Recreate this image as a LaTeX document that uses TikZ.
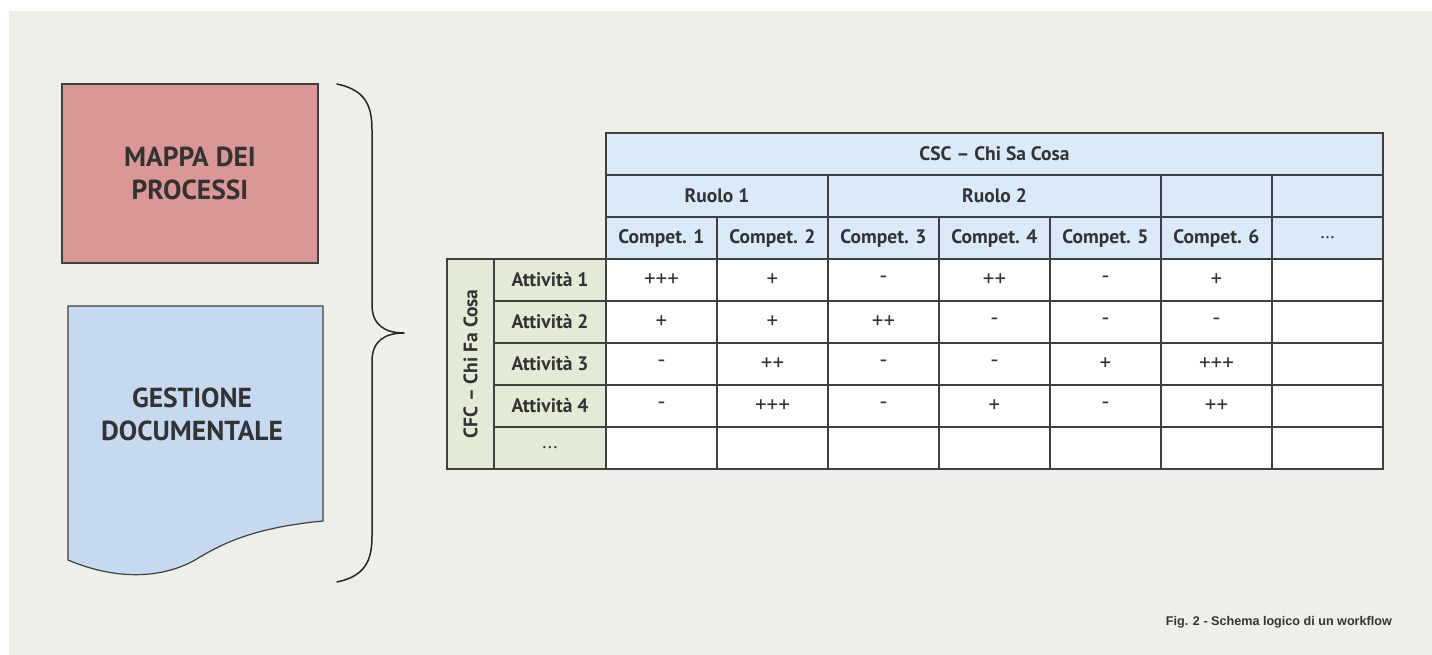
\documentclass[tikz,border=0pt]{standalone}
\usepackage{fontspec}
\setmainfont{PT Sans}
\newfontfamily\capfont{Liberation Sans}
\usetikzlibrary{positioning}

\definecolor{bgpaper}{HTML}{EFEFEA}
\definecolor{mapred}{HTML}{DB9696}
\definecolor{docblue}{HTML}{C5D9F1}
\definecolor{headblue}{HTML}{DAEAF8}
\definecolor{rowgreen}{HTML}{E3EAD6}
\definecolor{gridline}{HTML}{404040}
\definecolor{inktext}{HTML}{333333}

\begin{document}
\begin{tikzpicture}[x=1pt,y=-1pt]
\tikzset{
  boxnode/.style={rectangle,draw=gridline,line width=1.2pt,inner sep=0pt,text=inktext,
    font=\fontsize{27.5}{33}\selectfont\bfseries,align=center},
  cellnode/.style={rectangle,draw=gridline,line width=1.3pt,inner sep=0pt,fill=white,
    minimum width=111pt,minimum height=42pt,text=inktext,font=\fontsize{23}{24}\selectfont},
  headcell/.style={cellnode,fill=headblue,font=\fontsize{19.5}{22}\selectfont\bfseries},
  rowcell/.style={cellnode,fill=rowgreen,minimum width=112pt,font=\fontsize{19.5}{22}\selectfont\bfseries},
  bracepath/.style={draw=black!85,line width=1.5pt,line cap=round,line join=round}
}
\useasboundingbox (0,0) rectangle (1432,655);
\fill[bgpaper] (9,11) rectangle (1432,655);

% left side
\node[boxnode,fill=mapred,minimum width=256pt,minimum height=179pt] (n_mappa) at (190,173.5) {MAPPA DEI\\PROCESSI};
\draw[draw=gridline,line width=1.2pt,fill=docblue] (68,306) -- (323,306) -- (323,521)
  .. controls (250,528) and (220,545) .. (195,560)
  .. controls (165,577) and (120,582) .. (68,560) -- cycle;
\node[text=inktext,font=\fontsize{27.5}{33}\selectfont\bfseries,align=center] (n_gestione) at (192,414) {GESTIONE\\DOCUMENTALE};
\draw[bracepath] (337,84) .. controls (365,90) and (372,105) .. (372,130) -- (372,305)
  .. controls (372,325) and (385,333) .. (404,333)
  .. controls (385,333) and (372,341) .. (372,361) -- (372,536)
  .. controls (372,561) and (365,576) .. (337,582);

% header rows
\node[headcell,minimum width=777pt] (n_csc) at (994.5,154) {CSC -- Chi Sa Cosa};
\node[headcell,minimum width=222pt] (n_r1) at (717,196) {Ruolo 1};
\node[headcell,minimum width=333pt] (n_r2) at (994.5,196) {Ruolo 2};
\node[headcell] (n_r3) at (1216.5,196) {};
\node[headcell] (n_r4) at (1327.5,196) {};
\node[headcell] (n_c1) at (661.5,238) {Compet. 1};
\node[headcell] (n_c2) at (772.5,238) {Compet. 2};
\node[headcell] (n_c3) at (883.5,238) {Compet. 3};
\node[headcell] (n_c4) at (994.5,238) {Compet. 4};
\node[headcell] (n_c5) at (1105.5,238) {Compet. 5};
\node[headcell] (n_c6) at (1216.5,238) {Compet. 6};
\node[headcell,font=\fontsize{19.5}{22}\selectfont] (n_c7) at (1327.5,238) {\dots};

% row labels
\node[rowcell,minimum width=210pt,minimum height=47pt,rotate=90] (n_cfc) at (470.5,364) {CFC -- Chi Fa Cosa};
\node[rowcell] (n_a1) at (550,280) {Attività 1};
\node[rowcell] (n_a2) at (550,322) {Attività 2};
\node[rowcell] (n_a3) at (550,364) {Attività 3};
\node[rowcell] (n_a4) at (550,406) {Attività 4};
\node[rowcell,font=\fontsize{19.5}{22}\selectfont] (n_a5) at (550,448) {...};

% values
\node[cellnode] (v11) at (661.5,280) {+++};
\node[cellnode] (v12) at (772.5,280) {+};
\node[cellnode] (v13) at (883.5,280) {-};
\node[cellnode] (v14) at (994.5,280) {++};
\node[cellnode] (v15) at (1105.5,280) {-};
\node[cellnode] (v16) at (1216.5,280) {+};
\node[cellnode] (v17) at (1327.5,280) {};
\node[cellnode] (v21) at (661.5,322) {+};
\node[cellnode] (v22) at (772.5,322) {+};
\node[cellnode] (v23) at (883.5,322) {++};
\node[cellnode] (v24) at (994.5,322) {-};
\node[cellnode] (v25) at (1105.5,322) {-};
\node[cellnode] (v26) at (1216.5,322) {-};
\node[cellnode] (v27) at (1327.5,322) {};
\node[cellnode] (v31) at (661.5,364) {-};
\node[cellnode] (v32) at (772.5,364) {++};
\node[cellnode] (v33) at (883.5,364) {-};
\node[cellnode] (v34) at (994.5,364) {-};
\node[cellnode] (v35) at (1105.5,364) {+};
\node[cellnode] (v36) at (1216.5,364) {+++};
\node[cellnode] (v37) at (1327.5,364) {};
\node[cellnode] (v41) at (661.5,406) {-};
\node[cellnode] (v42) at (772.5,406) {+++};
\node[cellnode] (v43) at (883.5,406) {-};
\node[cellnode] (v44) at (994.5,406) {+};
\node[cellnode] (v45) at (1105.5,406) {-};
\node[cellnode] (v46) at (1216.5,406) {++};
\node[cellnode] (v47) at (1327.5,406) {};
\node[cellnode] (v51) at (661.5,448) {};
\node[cellnode] (v52) at (772.5,448) {};
\node[cellnode] (v53) at (883.5,448) {};
\node[cellnode] (v54) at (994.5,448) {};
\node[cellnode] (v55) at (1105.5,448) {};
\node[cellnode] (v56) at (1216.5,448) {};
\node[cellnode] (v57) at (1327.5,448) {};

% caption
\node[anchor=east,inner sep=0pt,text=inktext,font=\capfont\fontsize{12.6}{15}\selectfont\bfseries] (n_caption) at (1392,622) {Fig. 2 - Schema logico di un workflow};
\end{tikzpicture}
\end{document}
